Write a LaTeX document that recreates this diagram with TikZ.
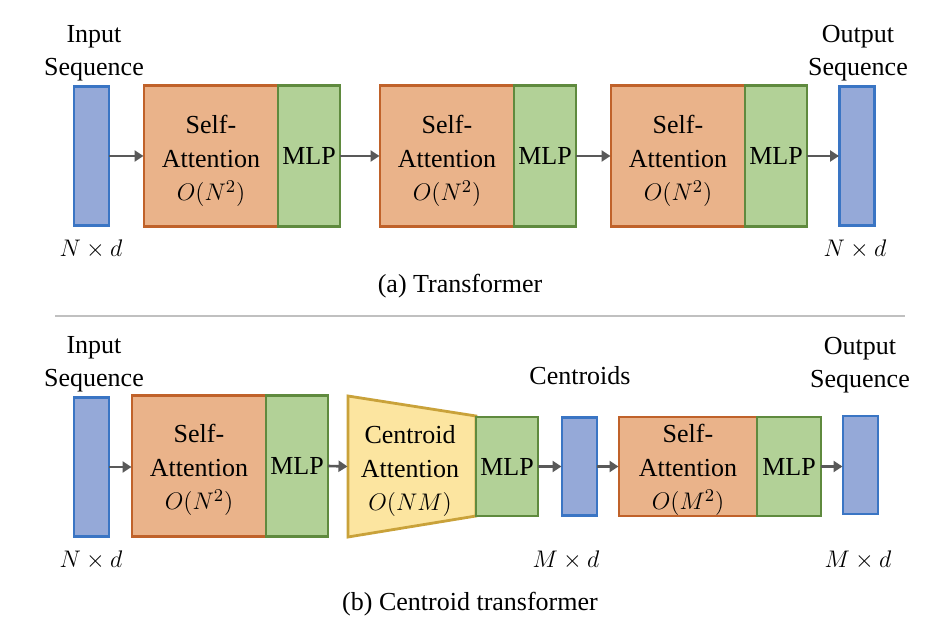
\documentclass[tikz,border=0pt]{standalone}
\usepackage{fontspec}
\setmainfont{Liberation Serif}
\usetikzlibrary{arrows.meta}
\definecolor{seqfill}{HTML}{95A9D8}
\definecolor{seqdraw}{HTML}{3A75C4}
\definecolor{safill}{HTML}{EAB38A}
\definecolor{sadraw}{HTML}{C0622A}
\definecolor{mlpfill}{HTML}{B2D197}
\definecolor{mlpdraw}{HTML}{5F8A3E}
\definecolor{cafill}{HTML}{FCE5A0}
\definecolor{cadraw}{HTML}{C9A23A}
\definecolor{arrowgray}{HTML}{595959}
\definecolor{sepgray}{HTML}{C0C0C0}
\begin{document}
\begin{tikzpicture}[x=0.5pt,y=-0.5pt,
  every node/.style={font=\fontsize{13}{16.8}\selectfont, inner sep=0pt, outer sep=0pt},
  box/.style={line width=1.4pt, align=center},
  seqbox/.style={box, draw=seqdraw, fill=seqfill, minimum width=17.5pt},
  sabox/.style={box, draw=sadraw, fill=safill, minimum width=67pt},
  mlpbox/.style={box, draw=mlpdraw, fill=mlpfill, minimum width=31pt},
  conn/.style={draw=arrowgray, line width=1.3pt, -{Triangle[length=4.5pt,width=5.5pt]}, shorten >=0.25pt},
  lbl/.style={align=center, font=\fontsize{13}{16.3}\selectfont},
  boxtext/.style={align=center},
]
\useasboundingbox (0,0) rectangle (936,635);

% ---------- (a) Transformer ----------
\node[seqbox, minimum height=69.5pt] (in1) at (91.5,156) {};
\node[sabox, minimum height=70.5pt] (sa1) at (211,156) {};
\node[boxtext] (sa1t) at (211,161) {Self-\\Attention\\$O(N^2)$};
\node[mlpbox, minimum height=70.5pt] (mlp1) at (309,156) {MLP};
\node[sabox, minimum height=70.5pt] (sa2) at (447,156) {};
\node[boxtext] (sa2t) at (447,161) {Self-\\Attention\\$O(N^2)$};
\node[mlpbox, minimum height=70.5pt] (mlp2) at (545,156) {MLP};
\node[sabox, minimum height=70.5pt] (sa3) at (678,156) {};
\node[boxtext] (sa3t) at (678,161) {Self-\\Attention\\$O(N^2)$};
\node[mlpbox, minimum height=70.5pt] (mlp3) at (776,156) {MLP};
\node[seqbox, minimum height=69.5pt] (out1) at (857,156) {};

\draw[conn] (in1.east) -- (sa1.west |- in1.east);
\draw[conn] (mlp1.east) -- (sa2.west |- mlp1.east);
\draw[conn] (mlp2.east) -- (sa3.west |- mlp2.east);
\draw[conn] (mlp3.east) -- (out1.west);

\node[lbl] (inlbl1) at (94,53) {Input\\Sequence};
\node[lbl] (outlbl1) at (858,53) {Output\\Sequence};
\node (nd1) at (91,249) {$N\times d$};
\node (nd2) at (855,249) {$N\times d$};
\node (capa) at (460,286) {(a) Transformer};

\draw[sepgray, line width=0.75pt] (55,316) -- (905,316);

% ---------- (b) Centroid transformer ----------
\node[seqbox, minimum height=69.5pt] (in2) at (91.5,467) {};
\node[sabox, minimum height=70.5pt] (sa4) at (199,466) {};
\node[boxtext] (sa4t) at (199,470) {Self-\\Attention\\$O(N^2)$};
\node[mlpbox, minimum height=70.5pt] (mlp4) at (297,466) {MLP};
\draw[draw=cadraw, fill=cafill, line width=1.4pt, line join=miter]
  (348,396) -- (476,416) -- (476,516) -- (348,537) -- cycle;
\coordinate (trL) at (348,466.5);
\coordinate (trR) at (476,466.5);
\node[boxtext] (ca) at (410,471) {Centroid\\Attention\\$O(NM)$};
\node[mlpbox, minimum height=49.5pt] (mlp5) at (507,466.5) {MLP};
\node[seqbox, minimum height=49pt] (cen) at (579.5,466.5) {};
\node[sabox, minimum width=69pt, minimum height=49.5pt] (sa5) at (688,466.5) {};
\node[boxtext] (sa5t) at (688,470) {Self-\\Attention\\$O(M^2)$};
\node[mlpbox, minimum width=32pt, minimum height=49.5pt] (mlp6) at (789,466.5) {MLP};
\node[seqbox, minimum height=49pt] (out2) at (860.5,465) {};

\draw[conn] (in2.east) -- (sa4.west |- in2.east);
\draw[conn] (mlp4.east) -- (trL);
\draw[conn] (mlp5.east) -- (cen.west);
\draw[conn] (cen.east) -- (sa5.west);
\draw[conn] (mlp6.east) -- (out2.west |- mlp6.east);

\node[lbl] (inlbl2) at (94,364) {Input\\Sequence};
\node (cenlbl) at (580,376) {Centroids};
\node[lbl] (outlbl2) at (860,365) {Output\\Sequence};
\node (nd3) at (91,560) {$N\times d$};
\node (md1) at (566,560) {$M\times d$};
\node (md2) at (858,560) {$M\times d$};
\node (capb) at (470,604) {(b) Centroid transformer};
\end{tikzpicture}
\end{document}
